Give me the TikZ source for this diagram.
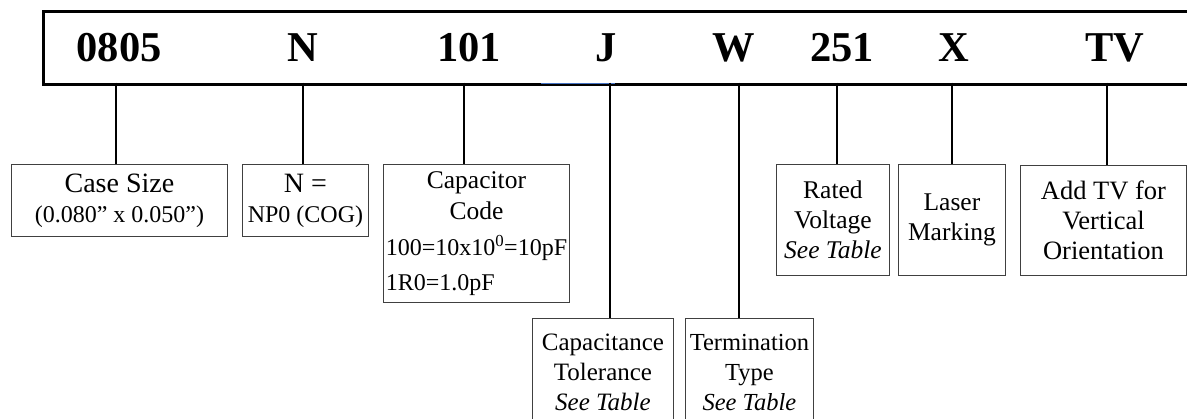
\documentclass[tikz,border=0pt]{standalone}
\usepackage{fontspec}
\setmainfont{Liberation Serif}
\definecolor{accentblue}{HTML}{4472C4}
\begin{document}
\begin{tikzpicture}[x=1pt,y=-1pt,
  box/.style={draw=black!75, line width=0.9pt, inner sep=0pt, align=center, anchor=north west,
              font=\fontsize{25.5}{30}\selectfont},
  conn/.style={line width=2.5pt},
  hdrlabel/.style={font=\fontsize{42.5}{42.5}\selectfont\bfseries, anchor=base, inner sep=0pt}]
\useasboundingbox (0,0) rectangle (1187,419);

% header box (runs off the right edge)
\node[draw, line width=3pt, minimum width=1200pt, minimum height=72.7pt,
      anchor=north west, inner sep=0pt] (hdr) at (42,10) {};
\coordinate (bl1) at (541,84);
\coordinate (bl2) at (615,84);
\draw[accentblue, line width=1pt] (bl1) -- (bl2);

% header labels
\node[hdrlabel] (t0805) at (119,62) {0805};
\node[hdrlabel] (tN)    at (303,62) {N};
\node[hdrlabel] (t101)  at (469,62) {101};
\node[hdrlabel] (tJ)    at (606,62) {J};
\node[hdrlabel] (tW)    at (734,62) {W};
\node[hdrlabel] (t251)  at (842,62) {251};
\node[hdrlabel] (tX)    at (954,62) {X};
\node[hdrlabel] (tTV)   at (1115,62) {TV};

% connector origins on the header's lower edge
\coordinate (c1) at (116,82.7);
\coordinate (c2) at (303,82.7);
\coordinate (c3) at (464,82.7);
\coordinate (c4) at (610,82.7);
\coordinate (c5) at (739,82.7);
\coordinate (c6) at (837,82.7);
\coordinate (c7) at (952,82.7);
\coordinate (c8) at (1107,82.7);

% description boxes
\node[box, minimum width=216pt, minimum height=72pt] (case) at (11,164)
  {{\fontsize{28}{28}\selectfont Case Size}\\{\fontsize{24}{28}\selectfont (0.080” x 0.050”)}};
\node[box, minimum width=126pt, minimum height=72pt] (np0) at (242,164)
  {{\fontsize{28}{28}\selectfont N =}\\{\fontsize{24}{28}\selectfont NP0 (COG)}};
\node[box, minimum width=186pt, minimum height=138pt] (code) at (383,164)
  {\fontsize{25.5}{31}\selectfont
   \begin{tabular}{@{}l@{}}
   \multicolumn{1}{@{}c@{}}{Capacitor}\\
   \multicolumn{1}{@{}c@{}}{Code}\\[5pt]
   {\fontsize{24}{31}\selectfont 100=10x10\textsuperscript{0}=10pF}\\[4pt]
   {\fontsize{24}{31}\selectfont 1R0=1.0pF}
   \end{tabular}};
\node[box, minimum width=141pt, minimum height=108pt, font=\fontsize{25}{30}\selectfont] (tol) at (532,318)
  {Capacitance\\Tolerance\\\textit{See Table}};
\node[box, minimum width=128pt, minimum height=108pt, font=\fontsize{24.5}{30}\selectfont] (term) at (685,318)
  {Termination\\Type\\\textit{See Table}};
\node[box, minimum width=113pt, minimum height=111pt] (rated) at (776,164)
  {Rated\\Voltage\\\textit{See Table}};
\node[box, minimum width=107pt, minimum height=111pt] (laser) at (898,164)
  {Laser\\Marking};
\node[box, minimum width=166pt, minimum height=110pt, font=\fontsize{26.5}{30}\selectfont] (addtv) at (1020,165)
  {Add TV for\\Vertical\\Orientation};

% connectors
\draw[conn] (c1) -- (c1 |- case.north);
\draw[conn] (c2) -- (c2 |- np0.north);
\draw[conn] (c3) -- (c3 |- code.north);
\draw[conn] (c4) -- (c4 |- tol.north);
\draw[conn] (c5) -- (c5 |- term.north);
\draw[conn] (c6) -- (c6 |- rated.north);
\draw[conn] (c7) -- (c7 |- laser.north);
\draw[conn] (c8) -- (c8 |- addtv.north);
\end{tikzpicture}
\end{document}
